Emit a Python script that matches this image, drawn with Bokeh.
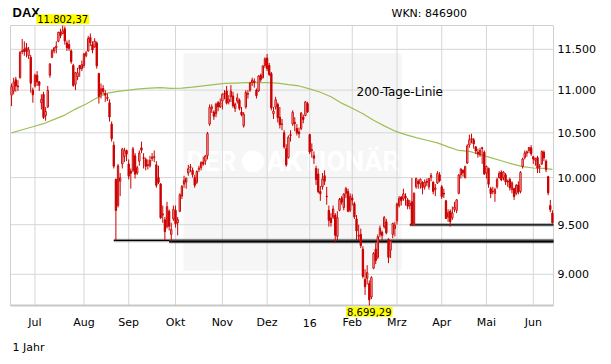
import math
import pandas as pd
from bokeh.plotting import figure
from bokeh.models import Range1d, Label
from bokeh.core.properties import value
from bokeh.embed import file_html
from bokeh.resources import INLINE

# ---------------- data ----------------
holidays = ["2015-12-24", "2015-12-25", "2015-12-31", "2016-01-01", "2016-03-25", "2016-03-28"]
dates = [d for d in pd.bdate_range("2015-06-16", "2016-06-14") if d.strftime("%Y-%m-%d") not in holidays]

opens = [
    10940, 10990, 11125, 11050, 11150, 11480, 11500, 11520, 11420, 11400, 11000,
    11050, 11180, 11100, 10850, 10950, 10700, 10800, 11180, 11400, 11480, 11520, 11600, 11720, 11700, 11760, 11580, 11560, 11480, 11300, 11070, 11160, 11300, 11260,
    11300, 11420, 11480, 11650, 11560, 11530, 11580, 11200, 10950, 11020, 10960, 10900, 10850, 10600, 10360, 9980, 9700, 9960, 10150, 10230, 10300,
    10150, 10070, 10080, 10240, 10050, 10180, 10330, 10220, 10200, 10140, 10130, 10210, 10220, 10140, 10000, 9930, 9600, 9550, 9480, 9640, 9400, 9560,
    9650, 9520, 9640, 9800, 9930, 9950, 10050, 10110, 10080, 10000, 9950, 10090, 10110, 10170, 10180, 10240, 10600, 10780, 10740, 10720, 10850, 10800,
    10870, 10960, 10990, 10860, 10920, 10930, 10780, 10870, 10880, 10740, 10580, 10800, 10950, 11000, 11090, 11110, 11000, 10990, 11180, 11150, 11300,
    11390, 11300, 11200, 10720, 10800, 10830, 10680, 10600, 10500, 10320, 10220, 10480, 10600, 10620, 10550, 10510, 10550, 10680, 10700, 10840,
    10480, 10300, 10240, 10100, 10040, 9850, 9900, 10020, 9800, 9650, 9570, 9580, 9600, 9380, 9650, 9780, 9680, 9830, 9850, 9650,
    9780, 9720, 9560, 9380, 9400, 9250, 8950, 8960, 8910, 8780, 9060, 9250, 9170, 9400, 9420, 9480, 9530, 9350, 9240, 9400, 9460,
    9540, 9700, 9790, 9770, 9800, 9760, 9700, 9740, 9500, 9900, 9960, 9930, 9950, 9900, 9960, 9900, 10000, 9950, 9870, 9940, 10030,
    9900, 9830, 9750, 9580, 9640, 9570, 9660, 9650, 9830, 10030, 10080, 10000, 10160, 10360, 10420, 10420, 10340, 10280, 10250, 10330, 10280,
    10050, 10100, 9880, 9850, 9830, 9900, 10000, 10060, 10000, 10030, 9960, 9980, 9870, 9880, 9830, 9920, 9850, 10120, 10220, 10270, 10300, 10330,
    10230, 10190, 10220, 10120, 10150, 10280, 10180, 10010, 9700, 9620,
]
highs = [
    11080, 11150, 11160, 11120, 11480, 11630, 11600, 11580, 11530, 11430, 11030,
    11200, 11230, 11110, 10950, 10980, 10800, 11050, 11330, 11500, 11530, 11600, 11720, 11760, 11802.37, 11790, 11610, 11620, 11500, 11320, 11220, 11270, 11300, 11360,
    11450, 11480, 11670, 11700, 11600, 11640, 11600, 11210, 11080, 11060, 11000, 10960, 10890, 10630, 10400, 9990, 10150, 10050, 10330, 10330, 10310,
    10200, 10100, 10340, 10270, 10130, 10300, 10400, 10270, 10220, 10200, 10240, 10270, 10300, 10180, 10130, 9940, 9700, 9580, 9740, 9660, 9520, 9700,
    9700, 9580, 9830, 9920, 10020, 10000, 10140, 10150, 10110, 10030, 10080, 10130, 10180, 10230, 10250, 10510, 10830, 10830, 10760, 10850, 10870, 10900,
    10960, 11000, 11050, 10940, 11060, 10980, 10850, 10960, 10900, 10800, 10740, 11000, 11000, 11100, 11150, 11140, 11020, 11180, 11200, 11300, 11400,
    11440, 11330, 11220, 10800, 10920, 10850, 10800, 10660, 10530, 10370, 10470, 10530, 10760, 10680, 10600, 10560, 10740, 10710, 10870, 10860,
    10490, 10380, 10290, 10130, 10100, 9910, 10050, 10080, 9900, 9700, 9620, 9700, 9620, 9640, 9780, 9800, 9830, 9900, 9880, 9830,
    9820, 9740, 9600, 9500, 9460, 9280, 9050, 9090, 8940, 8980, 9220, 9310, 9400, 9490, 9440, 9590, 9560, 9360, 9340, 9520, 9530,
    9730, 9800, 9800, 9880, 9830, 9780, 9760, 9995, 9840, 10000, 9980, 9990, 9960, 9980, 9990, 9990, 10050, 9960, 9930, 10070, 10060,
    9920, 9880, 9760, 9660, 9660, 9690, 9740, 9770, 10040, 10100, 10090, 10130, 10370, 10480, 10490, 10440, 10350, 10320, 10330, 10340, 10300,
    10130, 10110, 9900, 9900, 9890, 10000, 10070, 10080, 10070, 10050, 9980, 10000, 9960, 9890, 9930, 9960, 10070, 10220, 10300, 10300, 10340, 10360,
    10240, 10220, 10240, 10150, 10300, 10300, 10200, 10020, 9760, 9650,
]
lows = [
    10810, 10950, 10980, 10990, 11140, 11440, 11420, 11400, 11380, 10970, 10850,
    11030, 11050, 10990, 10770, 10660, 10640, 10790, 11150, 11390, 11450, 11450, 11590, 11640, 11690, 11560, 11480, 11480, 11320, 11040, 11000, 11120, 11160, 11230,
    11270, 11400, 11470, 11540, 11450, 11520, 11260, 10840, 10900, 10950, 10860, 10870, 10630, 10400, 10100, 9338.20, 9680, 9800, 10100, 10170, 10180,
    9980, 9880, 10060, 9990, 10030, 10130, 10270, 10100, 10080, 10090, 10110, 10180, 10170, 9890, 9930, 9560, 9520, 9340, 9460, 9440, 9325.05, 9540,
    9470, 9390, 9630, 9770, 9890, 9880, 10020, 10060, 10000, 9890, 9930, 10060, 10080, 10130, 10140, 10200, 10580, 10730, 10650, 10680, 10750, 10790,
    10770, 10890, 10830, 10830, 10860, 10790, 10740, 10840, 10760, 10690, 10560, 10780, 10900, 10980, 11050, 11030, 10900, 10980, 11100, 11140, 11270,
    11230, 11170, 10760, 10660, 10770, 10620, 10550, 10530, 10320, 10120, 10210, 10400, 10580, 10520, 10470, 10440, 10530, 10610, 10690, 10730,
    10260, 10220, 10150, 9920, 9830, 9750, 9870, 9920, 9710, 9480, 9480, 9560, 9314.57, 9340, 9640, 9710, 9650, 9780, 9630, 9630,
    9700, 9560, 9340, 9340, 9260, 8960, 8800, 8900, 8699.29, 8760, 9050, 9100, 9150, 9370, 9330, 9460, 9400, 9110, 9160, 9360, 9380,
    9500, 9680, 9700, 9750, 9700, 9660, 9660, 9498.15, 9500, 9880, 9880, 9880, 9820, 9870, 9910, 9870, 9960, 9820, 9800, 9930, 9950,
    9770, 9780, 9560, 9530, 9480, 9550, 9630, 9620, 9820, 9990, 10010, 9990, 10150, 10330, 10380, 10320, 10260, 10220, 10230, 10150, 10030,
    9990, 9890, 9780, 9820, 9740, 9880, 9990, 9960, 9970, 9920, 9900, 9860, 9830, 9760, 9810, 9820, 9830, 10100, 10200, 10230, 10270, 10240,
    10150, 10130, 10050, 10050, 10140, 10180, 10060, 9810, 9630, 9510,
]
closes = [
    11044, 11099, 11050, 11040, 11460, 11471, 11471, 11473, 11492, 11083, 10945,
    11180, 11099, 11058, 10890, 10677, 10747, 10996, 11316, 11484, 11517, 11540, 11717, 11673, 11735, 11605, 11521, 11512, 11347, 11056, 11211, 11211, 11257, 11309,
    11444, 11456, 11636, 11585, 11491, 11605, 11294, 10925, 11015, 10985, 10940, 10916, 10682, 10432, 10125, 9648, 10128, 9997, 10316, 10299, 10259,
    10016, 10048, 10318, 10038, 10109, 10271, 10303, 10210, 10124, 10132, 10188, 10227, 10230, 9916, 9948, 9571, 9613, 9428, 9689, 9484, 9450, 9660,
    9509, 9553, 9815, 9903, 9970, 9993, 10097, 10120, 10033, 9916, 10065, 10104, 10164, 10148, 10238, 10492, 10795, 10801, 10692, 10832, 10801, 10850,
    10951, 10951, 10845, 10887, 10988, 10815, 10833, 10908, 10783, 10708, 10713, 10971, 10960, 11085, 11120, 11092, 10934, 11170, 11126, 11294, 11382,
    11261, 11190, 10789, 10752, 10886, 10674, 10592, 10599, 10340, 10139, 10450, 10469, 10738, 10608, 10498, 10489, 10728, 10654, 10860, 10743,
    10283, 10310, 10214, 9980, 9849, 9825, 9985, 9961, 9794, 9545, 9522, 9664, 9392, 9574, 9765, 9736, 9823, 9881, 9640, 9798,
    9758, 9581, 9435, 9393, 9286, 8979, 8879, 9017, 8753, 8968, 9207, 9135, 9377, 9464, 9388, 9574, 9417, 9168, 9331, 9513, 9495,
    9717, 9777, 9752, 9824, 9779, 9693, 9723, 9498.15, 9831, 9990, 9934, 9983, 9892, 9951, 9949, 9990, 10023, 9851, 9888, 10047, 9966,
    9795, 9822, 9563, 9625, 9531, 9622, 9683, 9761, 10026, 10094, 10052, 10120, 10350, 10421, 10436, 10373, 10294, 10260, 10300, 10321, 10039,
    10123, 9927, 9828, 9852, 9870, 9980, 10045, 9975, 10061, 9953, 9952, 9890, 9943, 9796, 9916, 9842, 10057, 10205, 10273, 10286, 10333, 10263,
    10204, 10208, 10103, 10121, 10288, 10217, 10089, 9835, 9657, 9519,
]

ma_idx = list(range(0, 255, 5)) + [254]
ma200 = [10500, 10535, 10570, 10605, 10655, 10705, 10775, 10835, 10905, 10965,
         10985, 11000, 11015, 11025, 11030, 11020, 11025, 11035, 11050, 11065,
         11080, 11085, 11090, 11090, 11090, 11085, 11065, 11050, 11015, 10975,
         10920, 10845, 10785, 10720, 10645, 10580, 10520, 10480, 10445, 10415,
         10385, 10340, 10300, 10290, 10255, 10220, 10185, 10150, 10120, 10105,
         10100, 10090]

support_levels = [9338.20, 9325.05, 9498.15]
support_start = [49, 75, 188]

month_labels = ["Jul", "Aug", "Sep", "Okt", "Nov", "Dez", "16", "Feb", "Mrz", "Apr", "Mai", "Jun"]
y_ticks = [9000, 9500, 10000, 10500, 11000, 11500]
y_tick_labels = ["9.000", "9.500", "10.000", "10.500", "11.000", "11.500"]

# ---------------- layout (pixels) ----------------
W, H = 611, 364
CL, CR, CT, CB = 10, 553, 25, 305       # chart area inside the canvas

n = len(closes)
xs = list(range(n))
month_ticks = [i for i in range(1, len(dates)) if dates[i].month != dates[i - 1].month]
ymin, ymax = min(lows), max(highs)
i_max, i_min = highs.index(ymax), lows.index(ymin)

u = (CR - CL) / n
k = (CB - CT) / math.log(ymax / ymin)

def X(px):
    return -0.5 + (px - CL) / u

def Y(py):
    return ymax * math.exp(-(py - CT) / k)

def fmt_de(v):
    s = f"{v:,.2f}"
    return s.replace(",", "X").replace(".", ",").replace("X", ".")

RED = "#cc0000"
GRID = "#d6d6d6"
FONT = value("DejaVu Sans")

p = figure(width=W, height=H, x_range=Range1d(X(0), X(W)), y_range=Range1d(Y(H), Y(0)),
           y_axis_type="log", x_axis_location=None, y_axis_location=None,
           output_backend="svg", toolbar_location=None,
           min_border_left=0, min_border_right=0, min_border_top=0, min_border_bottom=0)
p.background_fill_color = "white"
p.border_fill_color = "white"
p.outline_line_color = None
p.grid.visible = False

x0c, x1c = X(CL), X(CR)

# watermark
p.quad(left=[X(183)], right=[X(401)], bottom=[Y(270)], top=[Y(52.7)], fill_color="#f6f6f6", line_color=None)
p.text(x=[X(236)], y=[Y(161)], text=["DER"], text_font=value("Roboto"), text_font_style="bold",
       text_font_size="27px", text_color="white", text_align="right", text_baseline="middle")
p.scatter(x=[X(252.5)], y=[Y(161)], size=22, fill_color="white", line_color=None)
p.text(x=[X(266)], y=[Y(161)], text=["AKTIONÄR"], text_font=value("Roboto"), text_font_style="bold",
       text_font_size="27px", text_color="white", text_align="left", text_baseline="middle")

# grid
p.segment(x0=month_ticks, x1=month_ticks, y0=[ymin] * len(month_ticks), y1=[ymax] * len(month_ticks),
          line_color=GRID, line_width=1)
p.segment(x0=[x0c] * len(y_ticks), x1=[x1c] * len(y_ticks), y0=y_ticks, y1=y_ticks,
          line_color=GRID, line_width=1)
# chart border
p.segment(x0=[x0c, x0c, x1c], x1=[x1c, x0c, x1c], y0=[ymax, ymin, ymin], y1=[ymax, ymax, ymax],
          line_color="#d0d0d0", line_width=1)
p.segment(x0=[x0c], x1=[x1c], y0=[ymin], y1=[ymin], line_color="#c8c8c8", line_width=2)

# tick labels
p.text(x=month_ticks, y=[Y(322)] * len(month_ticks), text=month_labels, text_font=FONT,
       text_font_size="11px", text_color="#000000", text_align="center", text_baseline="middle")
p.text(x=[X(557)] * len(y_ticks), y=y_ticks, text=y_tick_labels, text_font=FONT,
       text_font_size="11px", text_color="#000000", text_align="left", text_baseline="middle")

# 200-day line
p.line([xs[i] for i in ma_idx], ma200, line_color="#9dbf55", line_width=1.2)

# support lines
for lev, st in zip(support_levels, support_start):
    p.segment(x0=[st - 1], x1=[x1c], y0=[lev], y1=[lev], line_color="#777777", line_width=3.5, line_alpha=0.55)
    p.segment(x0=[st - 1], x1=[x1c], y0=[lev], y1=[lev], line_color="#000000", line_width=1.3)

# candles
p.segment(x0=xs, x1=xs, y0=lows, y1=highs, line_color=RED, line_width=1)
tops = [max(o, c) for o, c in zip(opens, closes)]
bots = [min(o, c) for o, c in zip(opens, closes)]
fills = ["white" if c >= o else RED for o, c in zip(opens, closes)]
p.vbar(x=xs, top=tops, bottom=bots, width=0.62, fill_color=fills, line_color=RED, line_width=1)

# texts
p.text(x=[X(12)], y=[Y(12.3)], text=["DAX"], text_font=value("Liberation Sans"), text_font_style="bold",
       text_font_size="13px", text_color="#000000", text_align="left", text_baseline="middle")
p.text(x=[X(391)], y=[Y(13)], text=["WKN: 846900"], text_font=FONT, text_font_size="11px",
       text_color="#000000", text_align="left", text_baseline="middle")
p.text(x=[X(12)], y=[Y(346.5)], text=["1 Jahr"], text_font=FONT, text_font_size="11px",
       text_color="#000000", text_align="left", text_baseline="middle")
p.text(x=[X(356)], y=[Y(91.5)], text=["200-Tage-Linie"], text_font=FONT, text_font_size="12px",
       text_color="#000000", text_align="left", text_baseline="middle")

p.add_layout(Label(x=i_max, y=Y(18.8), text=fmt_de(ymax), text_align="center", text_baseline="middle",
                   text_font="DejaVu Sans", text_font_size="10px", text_color="#000000",
                   background_fill_color="#ffff00", padding=1))
p.add_layout(Label(x=i_min, y=Y(311.3), text=fmt_de(ymin), text_align="center", text_baseline="middle",
                   text_font="DejaVu Sans", text_font_size="10px", text_color="#000000",
                   background_fill_color="#ffff00", padding=1))

open("out.html", "w").write(file_html(p, INLINE))
